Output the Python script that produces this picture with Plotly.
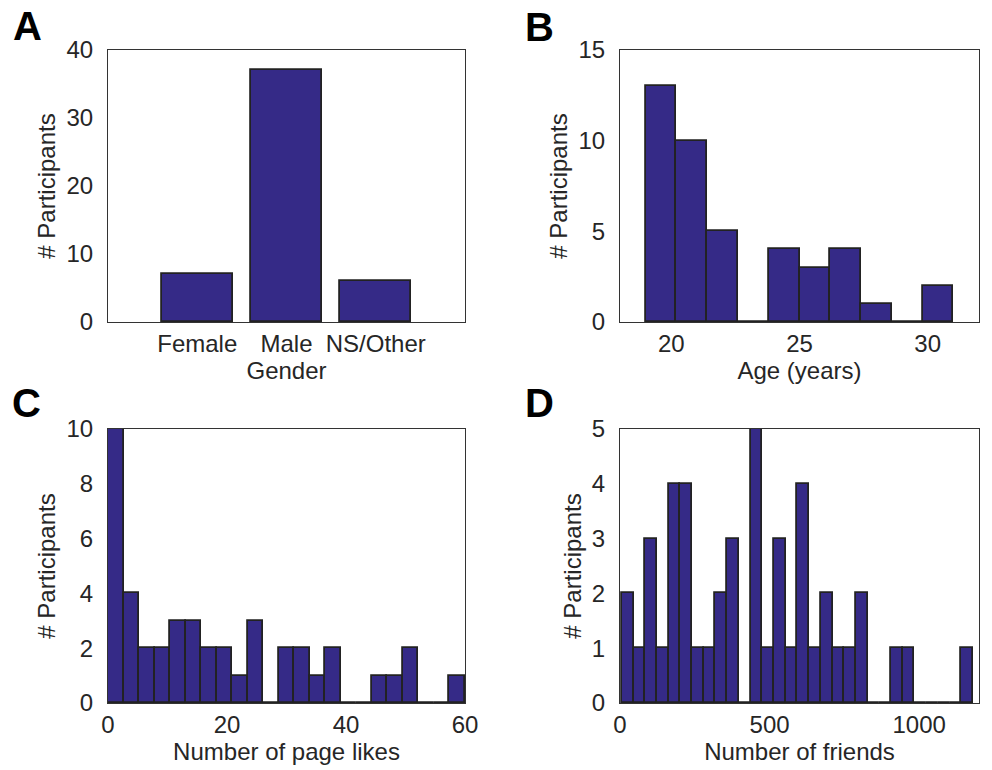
import plotly.graph_objects as go

# ---- data ----
gender_labels = ["Female", "Male", "NS/Other"]
gender_counts = [7, 37, 6]

age_bin_start = 19.0
age_bin_width = 1.2
age_counts = [13, 10, 5, 0, 4, 3, 4, 1, 0, 2]

likes_bin_start = 0.0
likes_bin_width = 60.0 / 23
likes_counts = [10, 4, 2, 2, 3, 3, 2, 2, 1, 3, 0, 2, 2, 1, 2, 0, 0, 1, 1, 2, 0, 0, 1]

friends_bin_start = 6.0
friends_bin_width = (1180.0 - 6.0) / 30
friends_counts = [2, 1, 3, 1, 4, 4, 1, 1, 2, 3, 0, 5, 1, 3, 1, 4, 1, 2, 1, 1,
                  2, 0, 0, 1, 1, 0, 0, 0, 0, 1]

# ---- style ----
W, H = 992, 770
BAR = "#352A87"
EDGE = "#222222"
TXT = "#262626"
FONT = "Liberation Sans, Arial, Helvetica, sans-serif"
FS = 24


def centers(start, width, n):
    return [start + width * (i + 0.5) for i in range(n)]


def xdom(l, r):
    return [l / W, r / W]


def ydom(t, b):
    return [1 - b / H, 1 - t / H]


fig = go.Figure()

bar_kw = dict(marker=dict(color=BAR, line=dict(color=EDGE, width=1.8)),
              showlegend=False, hoverinfo="x+y")

fig.add_trace(go.Bar(x=[1, 2, 3], y=gender_counts, width=0.8,
                     xaxis="x", yaxis="y", **bar_kw))
fig.add_trace(go.Bar(x=centers(age_bin_start, age_bin_width, len(age_counts)),
                     y=age_counts, width=age_bin_width,
                     xaxis="x2", yaxis="y2", **bar_kw))
fig.add_trace(go.Bar(x=centers(likes_bin_start, likes_bin_width, len(likes_counts)),
                     y=likes_counts, width=likes_bin_width,
                     xaxis="x3", yaxis="y3", **bar_kw))
fig.add_trace(go.Bar(x=centers(friends_bin_start, friends_bin_width, len(friends_counts)),
                     y=friends_counts, width=friends_bin_width,
                     xaxis="x4", yaxis="y4", **bar_kw))

ax_common = dict(showline=True, mirror=True, linecolor="#333333", linewidth=1.2,
                 showgrid=False, zeroline=False, ticks="", automargin=False,
                 tickfont=dict(family=FONT, size=FS, color=TXT),
                 fixedrange=True)


def xa(dom, rng, title, **kw):
    d = dict(ax_common)
    d.update(domain=dom, range=rng, ticklabelstandoff=0,
             title=dict(text=title, font=dict(family=FONT, size=FS, color=TXT), standoff=4))
    d.update(kw)
    return d


def ya(dom, rng, dtick, **kw):
    d = dict(ax_common)
    d.update(domain=dom, range=rng, dtick=dtick, ticklabelstandoff=9,
             title=dict(text="# Participants", font=dict(family=FONT, size=FS, color=TXT),
                        standoff=3))
    d.update(kw)
    return d


layout = dict(
    width=W, height=H, autosize=False,
    margin=dict(l=0, r=0, t=0, b=0),
    paper_bgcolor="white", plot_bgcolor="white",
    bargap=0,
    font=dict(family=FONT, color=TXT),
    xaxis=xa(xdom(108, 465), [0, 4], "Gender", anchor="y",
             tickvals=[1, 2, 3], ticktext=gender_labels),
    yaxis=ya(ydom(50, 322), [0, 40], 10, anchor="x"),
    xaxis2=xa(xdom(620, 979), [18, 32], "Age (years)", anchor="y2", tickvals=[20, 25, 30]),
    yaxis2=ya(ydom(50, 322), [0, 15], 5, anchor="x2"),
    xaxis3=xa(xdom(108, 465), [0, 60], "Number of page likes", anchor="y3", dtick=20),
    yaxis3=ya(ydom(429, 703), [0, 10], 2, anchor="x3"),
    xaxis4=xa(xdom(620, 979), [0, 1200], "Number of friends", anchor="y4",
              tickvals=[0, 500, 1000]),
    yaxis4=ya(ydom(429, 703), [0, 5], 1, anchor="x4"),
)

letters = [("A", 11, 26), ("B", 523, 27), ("C", 10, 403), ("D", 523, 403)]
annotations = []
for txt, x, y in letters:
    annotations.append(dict(text="<b>%s</b>" % txt, x=x / W, y=1 - y / H,
                            xref="paper", yref="paper", xanchor="left", yanchor="middle",
                            showarrow=False,
                            font=dict(family=FONT, size=40, color="black")))
layout["annotations"] = annotations

fig.update_layout(**layout)
fig.write_html("out.html")
